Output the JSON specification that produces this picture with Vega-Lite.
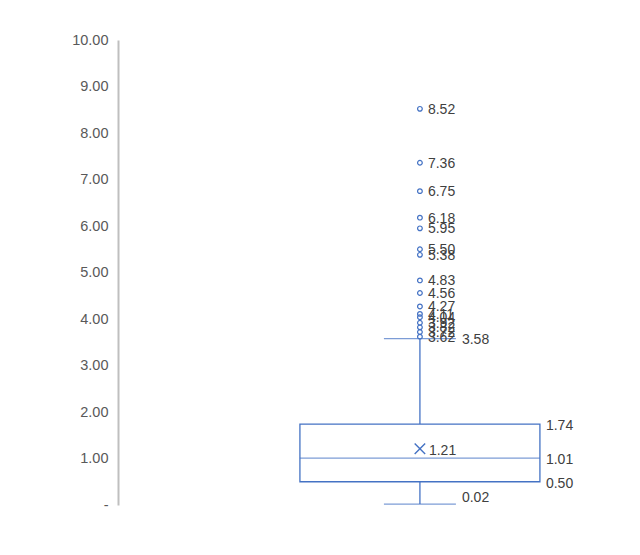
{
  "$schema": "https://vega.github.io/schema/vega-lite/v6.json",
  "width": 480,
  "height": 465,
  "autosize": "none",
  "padding": {"left": 118, "top": 40, "right": 42, "bottom": 50},
  "background": "white",
  "config": {"view": {"stroke": null}, "font": "Liberation Sans"},
  "datasets": {
    "stats": [{"cat": "Series1", "min": 0.02, "q1": 0.50, "median": 1.01, "q3": 1.74, "max": 3.58, "mean": 1.21}],
    "outliers": [
      {"cat": "Series1", "value": 8.52},
      {"cat": "Series1", "value": 7.36},
      {"cat": "Series1", "value": 6.75},
      {"cat": "Series1", "value": 6.18},
      {"cat": "Series1", "value": 5.95},
      {"cat": "Series1", "value": 5.50},
      {"cat": "Series1", "value": 5.38},
      {"cat": "Series1", "value": 4.83},
      {"cat": "Series1", "value": 4.56},
      {"cat": "Series1", "value": 4.27},
      {"cat": "Series1", "value": 4.11},
      {"cat": "Series1", "value": 4.04},
      {"cat": "Series1", "value": 3.92},
      {"cat": "Series1", "value": 3.82},
      {"cat": "Series1", "value": 3.72},
      {"cat": "Series1", "value": 3.62}
    ]
  },
  "encoding": {
    "x": {"field": "cat", "type": "nominal", "axis": null,
          "scale": {"paddingInner": 0, "paddingOuter": 0.5, "align": 0.758}}
  },
  "layer": [
    {
      "data": {"name": "stats"},
      "mark": {"type": "rule", "color": "#4472C4", "strokeWidth": 1.3},
      "encoding": {
        "y": {"field": "min", "type": "quantitative",
              "scale": {"domain": [0, 10], "nice": false},
              "axis": {"values": [0,1,2,3,4,5,6,7,8,9,10], "title": null, "ticks": false, "grid": false,
                       "domainColor": "#BFBFBF", "domainWidth": 2,
                       "labelExpr": "datum.value == 0 ? '-' : format(datum.value, '.2f')",
                       "labelColor": "#595959", "labelFontSize": 14.5, "labelPadding": 10,
                       "labelFont": "Liberation Sans"}},
        "y2": {"field": "q1"}
      }
    },
    {
      "data": {"name": "stats"},
      "mark": {"type": "rule", "color": "#4472C4", "strokeWidth": 1.3},
      "encoding": {
        "y": {"field": "q3", "type": "quantitative"},
        "y2": {"field": "max"}
      }
    },
    {
      "data": {"name": "stats"},
      "mark": {"type": "tick", "color": "#4472C4", "size": 72, "thickness": 1.3, "orient": "horizontal"},
      "encoding": {"y": {"field": "min", "type": "quantitative"}}
    },
    {
      "data": {"name": "stats"},
      "mark": {"type": "tick", "color": "#4472C4", "size": 72, "thickness": 1.3, "orient": "horizontal"},
      "encoding": {"y": {"field": "max", "type": "quantitative"}}
    },
    {
      "data": {"name": "stats"},
      "mark": {"type": "bar", "fill": "white", "stroke": "#4472C4", "strokeWidth": 1.3},
      "encoding": {
        "y": {"field": "q1", "type": "quantitative"},
        "y2": {"field": "q3"}
      }
    },
    {
      "data": {"name": "stats"},
      "mark": {"type": "tick", "color": "#4472C4", "size": 240, "thickness": 1.3, "orient": "horizontal"},
      "encoding": {"y": {"field": "median", "type": "quantitative"}}
    },
    {
      "data": {"name": "stats"},
      "mark": {"type": "point", "shape": "M-1,-1L1,1M-1,1L1,-1", "size": 110, "stroke": "#4472C4", "strokeWidth": 1.4, "filled": false, "opacity": 1},
      "encoding": {"y": {"field": "mean", "type": "quantitative"}}
    },
    {
      "data": {"name": "outliers"},
      "mark": {"type": "point", "shape": "circle", "size": 22, "stroke": "#4472C4", "strokeWidth": 1.2, "filled": false, "opacity": 1},
      "encoding": {"y": {"field": "value", "type": "quantitative"}}
    },
    {
      "data": {"name": "outliers"},
      "mark": {"type": "text", "align": "left", "baseline": "middle", "dx": 8, "dy": 1, "fontSize": 14, "color": "#404040"},
      "encoding": {
        "y": {"field": "value", "type": "quantitative"},
        "text": {"field": "value", "type": "quantitative", "format": ".2f"}
      }
    },
    {
      "data": {"name": "stats"},
      "mark": {"type": "text", "align": "left", "baseline": "middle", "dx": 9, "dy": 2, "fontSize": 14, "color": "#404040"},
      "encoding": {
        "y": {"field": "mean", "type": "quantitative"},
        "text": {"field": "mean", "type": "quantitative", "format": ".2f"}
      }
    },
    {
      "data": {"name": "stats"},
      "transform": [{"fold": ["q1", "median", "q3"], "as": ["stat", "v"]}],
      "mark": {"type": "text", "align": "left", "baseline": "middle", "dx": 126, "dy": 2, "fontSize": 14, "color": "#404040"},
      "encoding": {
        "y": {"field": "v", "type": "quantitative"},
        "text": {"field": "v", "type": "quantitative", "format": ".2f"}
      }
    },
    {
      "data": {"name": "stats"},
      "mark": {"type": "text", "align": "left", "baseline": "middle", "dx": 42, "dy": 1, "fontSize": 14, "color": "#404040"},
      "encoding": {
        "y": {"field": "max", "type": "quantitative"},
        "text": {"field": "max", "type": "quantitative", "format": ".2f"}
      }
    },
    {
      "data": {"name": "stats"},
      "mark": {"type": "text", "align": "left", "baseline": "middle", "dx": 42, "dy": -6, "fontSize": 14, "color": "#404040"},
      "encoding": {
        "y": {"field": "min", "type": "quantitative"},
        "text": {"field": "min", "type": "quantitative", "format": ".2f"}
      }
    }
  ]
}
